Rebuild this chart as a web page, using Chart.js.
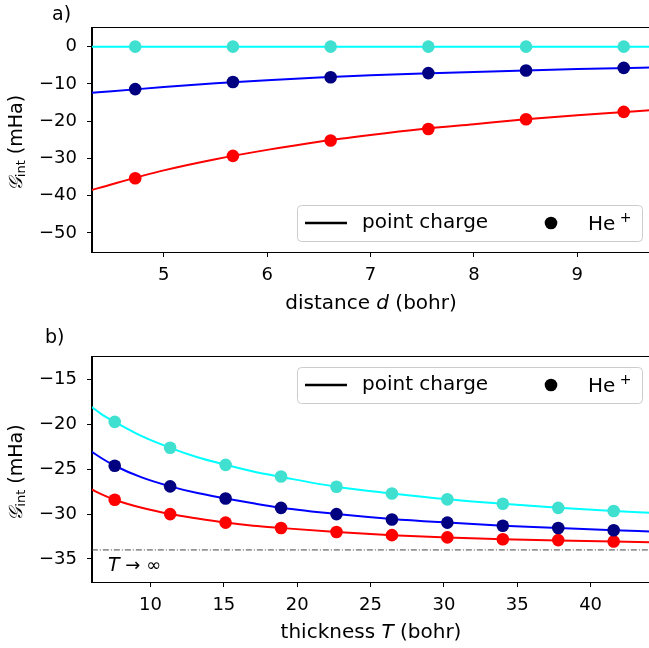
<!DOCTYPE html>
<html>
<head>
<meta charset="utf-8">
<script src="https://cdn.jsdelivr.net/npm/chart.js@4.4.1/dist/chart.umd.min.js"></script>
<style>
    html, body { margin: 0; padding: 0; background: #fff; overflow: hidden; }
    .panel { position: absolute; left: 0; width: 656px; }
    #panelA { top: 0; height: 320px; }
    #panelB { top: 320px; height: 328px; }
</style>
</head>
<body>
<div class="panel" id="panelA"><canvas id="chartA"></canvas></div>
<div class="panel" id="panelB"><canvas id="chartB"></canvas></div>
<script>
// a) interaction energy vs. distance d (bohr)
const distPoints = [4.724, 5.669, 6.614, 7.559, 8.504, 9.449];
const heCyanA = [0, 0, 0, 0, 0, 0];
const heNavyA = [-11.4, -9.5, -8.2, -7.1, -6.4, -5.7];
const heRedA = [-35.3, -29.3, -25.2, -22.1, -19.5, -17.5];

const distCurve = [4.3, 4.5, 5.0, 5.5, 6.0, 6.5, 7.0, 7.5, 8.0, 8.5, 9.0, 9.5, 9.7];
const pcCyanA = [0, 0, 0, 0, 0, 0, 0, 0, 0, 0, 0, 0, 0];
const pcBlueA = [-12.4, -12.0, -10.8, -9.8, -9.0, -8.3, -7.7, -7.2, -6.8, -6.4, -6.0, -5.7, -5.6];
const pcRedA = [-38.5, -36.9, -33.2, -30.2, -27.7, -25.5, -23.7, -22.1, -20.8, -19.5, -18.4, -17.5, -17.1];

const xTicksA = [5, 6, 7, 8, 9];
const yTicksA = [0, -10, -20, -30, -40, -50];

// b) interaction energy vs. thickness T (bohr)
const thickPoints = [7.559, 11.338, 15.118, 18.897, 22.677, 26.456, 30.236, 34.015, 37.795, 41.574];
const heCyanB = [-19.7, -22.6, -24.5, -25.8, -26.95, -27.7, -28.35, -28.85, -29.3, -29.65];
const heNavyB = [-24.6, -26.9, -28.25, -29.3, -30.0, -30.6, -30.95, -31.3, -31.55, -31.8];
const heRedB = [-28.4, -30.0, -30.95, -31.55, -32.0, -32.35, -32.6, -32.8, -32.9, -33.05];

const thickCurve = [6.0, 6.75, 7.56, 9.4, 11.34, 13.2, 15.12, 17.0, 18.9, 22.68, 26.46, 30.24, 34.02, 37.8, 41.57, 44.1];
const pcCyanB = [-18.05, -18.95, -19.7, -21.3, -22.6, -23.65, -24.5, -25.25, -25.85, -26.95, -27.7, -28.35, -28.85, -29.3, -29.65, -29.85];
const pcBlueB = [-23.05, -23.85, -24.6, -25.9, -26.9, -27.65, -28.25, -28.8, -29.3, -30.0, -30.55, -30.95, -31.3, -31.55, -31.8, -31.95];
const pcRedB = [-27.25, -27.85, -28.4, -29.3, -30.0, -30.5, -30.95, -31.3, -31.55, -32.0, -32.35, -32.6, -32.8, -32.95, -33.05, -33.15];

const bulkLimit = -34.0;
const bulkRange = [6.0, 44.1];

const xTicksB = [10, 15, 20, 25, 30, 35, 40];
const yTicksB = [-15, -20, -25, -30, -35];

const FONT = 'DejaVu Sans';

function pairs(xs, ys)
{
    return xs.map((x, i) => ({ x: x, y: ys[i] }));
}

function curve(xs, ys, color)
{
    return {
        data: pairs(xs, ys),
        borderColor: color,
        borderWidth: 2,
        pointRadius: 0,
        cubicInterpolationMode: 'monotone',
        fill: false,
        order: 1,
    };
}

function dots(xs, ys, color)
{
    return {
        data: pairs(xs, ys),
        showLine: false,
        pointRadius: 6.3,
        pointBorderWidth: 0,
        pointBackgroundColor: color,
        order: 0,
    };
}

// Text made of several pieces (italic letters, sub/superscripts)
function drawRuns(ctx, runs, x, y, align)
{
    let total = 0;
    runs.forEach(r =>
    {
        ctx.font = r.font;
        r.w = ctx.measureText(r.text).width;
        total += r.w;
    });
    let cx = align === 'center' ? x - total / 2 : x;
    ctx.textAlign = 'left';
    ctx.textBaseline = 'alphabetic';
    runs.forEach(r =>
    {
        ctx.font = r.font;
        ctx.fillText(r.text, cx, y + (r.dy || 0));
        cx += r.w;
    });
}

const decorPlugin = {
    id: 'decor',
    afterDatasetsDraw(chart, args, opts)
    {
        const ctx = chart.ctx;
        const a = chart.chartArea;
        ctx.save();

        // frame
        ctx.strokeStyle = '#000';
        ctx.lineWidth = 1;
        ctx.strokeRect(a.left - 0.5, a.top - 0.5, a.right - a.left + 1, a.bottom - a.top + 1);

        ctx.fillStyle = '#000';

        // panel letter
        ctx.font = '19px ' + FONT;
        ctx.textAlign = 'left';
        ctx.textBaseline = 'alphabetic';
        ctx.fillText(opts.panel, opts.panelX, opts.panelY);

        // x axis title
        drawRuns(ctx, opts.xTitle, (a.left + 652) / 2 - 1, opts.xTitleY, 'center');

        // y axis title
        ctx.save();
        ctx.translate(22, (a.top + a.bottom) / 2 + 3);
        ctx.rotate(-Math.PI / 2);
        drawRuns(ctx, [
            { text: '𝒢', font: 'italic 19px ' + FONT },
            { text: 'int', font: '13px ' + FONT, dy: 3 },
            { text: ' (mHa)', font: '19px ' + FONT },
        ], 0, 0, 'center');
        ctx.restore();

        // extra note inside the axes
        if (opts.note)
        {
            drawRuns(ctx, opts.note, 108, opts.noteY, 'left');
        }

        // legend
        const lx = 297, ly = opts.legendY, lw = 345, lh = 36;
        ctx.beginPath();
        ctx.roundRect(lx + 0.5, ly + 0.5, lw, lh, 4);
        ctx.fillStyle = 'rgba(255,255,255,0.8)';
        ctx.fill();
        ctx.strokeStyle = '#cccccc';
        ctx.lineWidth = 1;
        ctx.stroke();

        const my = ly + lh / 2;
        ctx.strokeStyle = '#000';
        ctx.lineWidth = 2.5;
        ctx.beginPath();
        ctx.moveTo(305, my);
        ctx.lineTo(347, my);
        ctx.stroke();

        ctx.fillStyle = '#000';
        ctx.font = '20px ' + FONT;
        ctx.textBaseline = 'middle';
        ctx.fillText('point charge', 362, my);

        ctx.beginPath();
        ctx.arc(551, my, 6.3, 0, Math.PI * 2);
        ctx.fill();

        ctx.textBaseline = 'alphabetic';
        drawRuns(ctx, [
            { text: 'He', font: '20px ' + FONT },
            { text: ' +', font: '14px ' + FONT, dy: -8 },
        ], 588, my + 7, 'left');

        ctx.restore();
    }
};

function makeScales(xr, yr, xTicks, yTicks, xAxisHeight)
{
    const grid = {
        display: true,
        drawOnChartArea: false,
        drawTicks: true,
        tickLength: 5,
        color: '#000',
        tickWidth: 1,
    };
    return {
        x: {
            type: 'linear',
            min: xr[0],
            max: xr[1],
            grid: grid,
            border: { display: true, color: '#000', width: 1 },
            ticks: { color: '#000', font: { family: FONT, size: 18 }, padding: 8, maxRotation: 0 },
            afterBuildTicks: s => { s.ticks = xTicks.map(v => ({ value: v })); },
            afterFit: s => { s.height = xAxisHeight; },
        },
        y: {
            type: 'linear',
            min: yr[0],
            max: yr[1],
            grid: grid,
            border: { display: true, color: '#000', width: 1 },
            ticks: {
                color: '#000',
                font: { family: FONT, size: 18 },
                padding: 10,
                callback: v => (v < 0 ? '\u2212' + Math.abs(v) : String(v)),
            },
            afterBuildTicks: s => { s.ticks = yTicks.map(v => ({ value: v })); },
            afterFit: s => { s.width = 92; },
        },
    };
}

function makeChart(canvasId, datasets, scales, topPad, decor)
{
    const ctx = document.getElementById(canvasId).getContext('2d');
    return new Chart(ctx, {
        type: 'line',
        data: { datasets: datasets },
        options: {
            responsive: true,
            maintainAspectRatio: false,
            animation: false,
            layout: { padding: { left: 0, right: 4, top: topPad, bottom: 0 } },
            scales: scales,
            plugins: {
                legend: { display: false },
                tooltip: { enabled: false },
                decor: decor,
            },
        },
        plugins: [decorPlugin],
    });
}

makeChart('chartA', [
    curve(distCurve, pcCyanA, '#00ffff'),
    curve(distCurve, pcBlueA, '#0000ff'),
    curve(distCurve, pcRedA, '#ff0000'),
    dots(distPoints, heCyanA, '#40e0d0'),
    dots(distPoints, heNavyA, '#000080'),
    dots(distPoints, heRedA, '#ff0000'),
], makeScales([4.306, 9.70], [-55.1, 5.0], xTicksA, yTicksA, 68), 28, {
    panel: 'a)', panelX: 52, panelY: 20,
    xTitle: [
        { text: 'distance ', font: '20px ' + FONT },
        { text: 'd', font: 'italic 20px ' + FONT },
        { text: ' (bohr)', font: '20px ' + FONT },
    ],
    xTitleY: 309,
    legendY: 205,
});

makeChart('chartB', [
    {
        data: pairs(bulkRange, [bulkLimit, bulkLimit]),
        borderColor: '#444444',
        borderWidth: 1,
        borderDash: [6, 2, 1, 2],
        pointRadius: 0,
        order: 2,
    },
    curve(thickCurve, pcCyanB, '#00ffff'),
    curve(thickCurve, pcBlueB, '#0000ff'),
    curve(thickCurve, pcRedB, '#ff0000'),
    dots(thickPoints, heCyanB, '#40e0d0'),
    dots(thickPoints, heNavyB, '#000080'),
    dots(thickPoints, heRedB, '#ff0000'),
], makeScales([6.01, 44.03], [-37.58, -12.46], xTicksB, yTicksB, 66), 37, {
    panel: 'b)', panelX: 45, panelY: 23,
    xTitle: [
        { text: 'thickness ', font: '20px ' + FONT },
        { text: 'T', font: 'italic 20px ' + FONT },
        { text: ' (bohr)', font: '20px ' + FONT },
    ],
    xTitleY: 318,
    note: [
        { text: 'T', font: 'italic 19px ' + FONT },
        { text: ' \u2192 \u221e', font: '18px ' + FONT },
    ],
    noteY: 251,
    legendY: 47,
});
</script>
</body>
</html>
